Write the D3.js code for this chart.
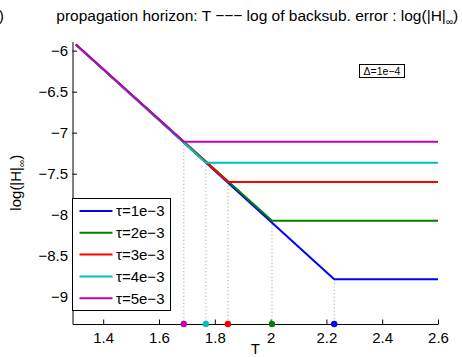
<!DOCTYPE html>
<html>
<head>
<meta charset="utf-8">
<script src="https://cdn.jsdelivr.net/npm/d3@7"></script>
<style>
  body { margin: 0; background: #fff; }
  svg { display: block; font-family: "Liberation Sans", Arial, Helvetica, sans-serif; }
</style>
</head>
<body>
<svg id="chart" width="462" height="357"></svg>
<script>
// Backsubstitution error vs. propagation horizon T, one series per tau
const seriesNames = ["τ=1e−3", "τ=2e−3", "τ=3e−3", "τ=4e−3", "τ=5e−3"];
const seriesColors = ["#0000ff", "#008000", "#ff0000", "#00bfbf", "#bf00bf"];
const startT = 1.302;
const startErr = -5.924;
const endT = 2.6;
const breakT = [2.228, 2.005, 1.847, 1.768, 1.689];
const plateauErr = [-8.788, -8.074, -7.602, -7.367, -7.111];
const xTicks = [1.4, 1.6, 1.8, 2.0, 2.2, 2.4, 2.6];
const yTicks = [-9, -8.5, -8, -7.5, -7, -6.5, -6];
const titleText = "propagation horizon: T −−− log of backsub. error : log(|H|";
const annotationText = "Δ=1e−4";

const svg = d3.select("#chart");
const plotL = 72.5, plotR = 438, plotT = 41.5, plotB = 324;
const fontSize = 15;

const x = d3.scaleLinear().domain([1.29, 2.6]).range([plotL, plotR]);
const y = d3.scaleLinear().domain([-9.333, -5.888]).range([plotB, plotT]);

const fmt = v => (v < 0 ? "−" : "") + String(Math.abs(v));

// axes (ticks point inward)
const gx = svg.append("g").attr("transform", `translate(0,${plotB})`)
  .call(d3.axisBottom(x).tickValues(xTicks).tickSizeInner(-4.5).tickSizeOuter(0).tickPadding(8)
    .tickFormat(d => d3.format("")(d)));
const gy = svg.append("g").attr("transform", `translate(${plotL},0)`)
  .call(d3.axisLeft(y).tickValues(yTicks).tickSizeInner(-4.5).tickSizeOuter(0).tickPadding(4.5)
    .tickFormat(fmt));
[gx, gy].forEach(g => {
  g.selectAll("path.domain").attr("stroke", "#000").attr("stroke-width", 1);
  g.selectAll(".tick line").attr("stroke", "#000");
  g.selectAll("text").attr("fill", "#000").attr("font-size", fontSize)
    .attr("font-family", "'Liberation Sans', Arial, sans-serif");
});

// dotted guides from each knee down to the axis
const guides = svg.append("g");
breakT.forEach((t, i) => {
  guides.append("line")
    .attr("x1", x(t)).attr("x2", x(t))
    .attr("y1", y(plateauErr[i])).attr("y2", plotB)
    .attr("stroke", "#999").attr("stroke-width", 1)
    .attr("stroke-dasharray", "1,2.5");
});

// series lines: blue first so later series sit on top of the shared slope
const line = d3.line().x(d => x(d[0])).y(d => y(d[1]));
const lines = svg.append("g");
breakT.forEach((t, i) => {
  const pts = [[startT, startErr], [t, plateauErr[i]], [endT, plateauErr[i]]];
  lines.append("path").attr("d", line(pts))
    .attr("fill", "none").attr("stroke", seriesColors[i])
    .attr("stroke-width", 2).attr("stroke-linejoin", "round");
});

// markers on the T axis at each knee
breakT.forEach((t, i) => {
  svg.append("circle").attr("cx", x(t)).attr("cy", plotB)
    .attr("r", 3.2).attr("fill", seriesColors[i]);
});

// legend
const lg = svg.append("g");
lg.append("rect").attr("x", plotL).attr("y", 198.5).attr("width", 98).attr("height", 112)
  .attr("fill", "#fff").attr("stroke", "#000").attr("stroke-width", 1);
seriesNames.forEach((name, i) => {
  const yy = 211 + i * 21.8;
  lg.append("line").attr("x1", 79.5).attr("x2", 112.5).attr("y1", yy).attr("y2", yy)
    .attr("stroke", seriesColors[i]).attr("stroke-width", 2);
  lg.append("text").attr("x", 116).attr("y", yy).attr("dy", "0.36em")
    .attr("font-size", fontSize).text(name);
});

// annotation box
svg.append("rect").attr("x", 359.5).attr("y", 64.5).attr("width", 45).attr("height", 13)
  .attr("fill", "#fff").attr("stroke", "#000").attr("stroke-width", 1);
svg.append("text").attr("x", 382).attr("y", 75).attr("text-anchor", "middle")
  .attr("font-size", 10.5).text(annotationText);

// title
const title = svg.append("text").attr("x", (plotL + plotR) / 2 + 2).attr("y", 20.5)
  .attr("text-anchor", "middle").attr("font-size", 15.5);
title.append("tspan").text(titleText);
title.append("tspan").attr("font-size", 10).attr("dy", 4).text("∞");
title.append("tspan").attr("dy", -4).text(")");

// panel tag, mostly clipped by the page edge
svg.append("text").attr("x", 4).attr("y", 20.5).attr("text-anchor", "end")
  .attr("font-size", 15.5).text("(b)");

// axis labels
svg.append("text").attr("x", (plotL + plotR) / 2).attr("y", 354)
  .attr("text-anchor", "middle").attr("font-size", fontSize).text("T");
const yl = svg.append("text")
  .attr("transform", `translate(21,${(plotT + plotB) / 2}) rotate(-90)`)
  .attr("text-anchor", "middle").attr("font-size", fontSize);
yl.append("tspan").text("log(|H|");
yl.append("tspan").attr("font-size", 10).attr("dy", 4).text("∞");
yl.append("tspan").attr("dy", -4).text(")");
</script>
</body>
</html>
